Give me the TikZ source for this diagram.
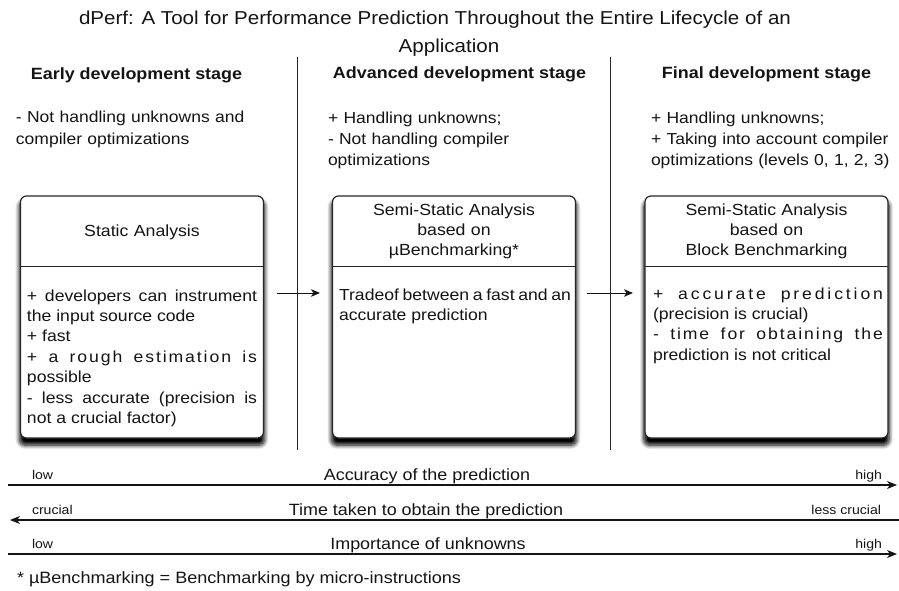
\documentclass[tikz,border=0pt]{standalone}
\usepackage{fontspec}
\setmainfont{Liberation Sans}[FakeStretch=1.1]
\usetikzlibrary{arrows.meta,shadows.blur}
\definecolor{ink}{HTML}{141414}
\definecolor{rule}{HTML}{262626}
\newcommand{\spaced}[2][12]{{\addfontfeature{LetterSpace=#1}#2}}
\begin{document}
\begin{tikzpicture}[x=1pt,y=-1pt,
  every node/.style={inner sep=0pt, outer sep=0pt, text=ink},
  titletext/.style={font=\fontsize{18.7}{28}\selectfont},
  stagehead/.style={font=\bfseries\fontsize{16.3}{20}\selectfont, anchor=base},
  stagedesc/.style={font=\fontsize{15.9}{21}\selectfont, anchor=base west,
    text width=250pt, align=left},
  stagebox/.style={draw=rule, line width=1.2pt, rounded corners=6pt, fill=white,
    minimum width=243pt, minimum height=242pt,
    blur shadow={shadow xshift=0pt, shadow yshift=-6pt, shadow scale=1.01,
      shadow blur radius=4pt, shadow blur steps=8, shadow opacity=100}},
  boxhead/.style={font=\fontsize{16.1}{20}\selectfont, anchor=base,
    text width=235pt, align=center},
  boxbody/.style={font=\fontsize{16}{20.4}\selectfont, anchor=base west,
    text width=230pt, align=justify},
  divider/.style={draw=rule, line width=1pt},
  separator/.style={draw=rule, line width=1pt},
  flow/.style={draw=ink, line width=1pt,
    -{Stealth[length=9pt, width=7.5pt, inset=2.5pt]}},
  axis/.style={draw=ink, line width=1.1pt,
    -{Stealth[length=10pt, width=8pt, inset=3pt]}},
  axisname/.style={font=\fontsize{16.3}{20}\selectfont, anchor=base},
  endlabel/.style={font=\fontsize{12.8}{15}\selectfont},
  note/.style={font=\fontsize{16.4}{20}\selectfont, anchor=base west}]

\useasboundingbox (0,0) rectangle (899,591);

% title
\node[titletext, anchor=base] (title1) at (435,25)
  {dPerf: A Tool for Performance Prediction Throughout the Entire Lifecycle of an};
\node[titletext, anchor=base] (title2) at (449,53) {Application};

% column separators
\coordinate (s1top) at (297,57);
\coordinate (s1bot) at (297,450);
\coordinate (s2top) at (610,57);
\coordinate (s2bot) at (610,450);
\draw[separator] (s1top) -- (s1bot);
\draw[separator] (s2top) -- (s2bot);

% stage headings
\node[stagehead] (head1) at (136.5,80) {Early development stage};
\node[stagehead] (head2) at (459.5,79) {Advanced development stage};
\node[stagehead] (head3) at (766.5,79) {Final development stage};

% stage descriptions
\node[stagedesc] (desc1) at (16,123)
  {- Not handling unknowns and\\compiler optimizations};
\node[stagedesc] (desc2) at (328,124)
  {+ Handling unknowns;\\- Not handling compiler\\optimizations};
\node[stagedesc] (desc3) at (651,124)
  {+ Handling unknowns;\\+ Taking into account compiler\\optimizations (levels 0, 1, 2, 3)};

% analysis boxes
\node[stagebox] (box1) at (142,317) {};
\node[stagebox] (box2) at (454,317) {};
\node[stagebox] (box3) at (766.5,317) {};

\draw[divider] (box1.west |- 0,266.7) -- (box1.east |- 0,266.7);
\draw[divider] (box2.west |- 0,266.7) -- (box2.east |- 0,266.7);
\draw[divider] (box3.west |- 0,266.7) -- (box3.east |- 0,266.7);

\node[boxhead] (name1) at (142,236) {Static Analysis};
\node[boxhead] (name2) at (454,215)
  {Semi-Static Analysis\\based on\\µBenchmarking*};
\node[boxhead] (name3) at (766.5,215)
  {Semi-Static Analysis\\based on\\Block Benchmarking};

\node[boxbody] (body1) at (27,301)
  {+ developers can instrument\linebreak the input source code\\
   + fast\\
   \spaced{+ a rough estimation is}\linebreak possible\\
   - less accurate (precision is\linebreak not a crucial factor)};
\node[boxbody, text width=232pt] (body2) at (339,300)
  {Tradeof between a fast and an\linebreak accurate prediction};
\node[boxbody] (body3) at (653,299)
  {\spaced[18]{+ accurate prediction}\linebreak (precision is crucial)\\
   \spaced{- time for obtaining the}\linebreak prediction is not critical};

% flow between the stages
\draw[flow] ([xshift=13.5pt, yshift=24pt]box1.east) -- ([xshift=-12.5pt, yshift=24pt]box2.west);
\draw[flow] ([xshift=11.5pt, yshift=24pt]box2.east) -- ([xshift=-12pt, yshift=24pt]box3.west);

% trend axes
\coordinate (acc-l) at (8,485);
\coordinate (acc-r) at (897,485);
\coordinate (time-l) at (10,520);
\coordinate (time-r) at (899,520);
\coordinate (unk-l) at (8,554);
\coordinate (unk-r) at (897,554);
\draw[axis] (acc-l) -- (acc-r);
\draw[axis] (time-r) -- (time-l);
\draw[axis] (unk-l) -- (unk-r);

\node[axisname] (accname) at (427,480) {Accuracy of the prediction};
\node[endlabel, anchor=base west] (acclow) at (32,479) {low};
\node[endlabel, anchor=base east] (acchigh) at (882,479) {high};

\node[axisname] (timename) at (426,515) {Time taken to obtain the prediction};
\node[endlabel, anchor=base west] (timecrucial) at (32,514) {crucial};
\node[endlabel, anchor=base east] (timeless) at (881,514) {less crucial};

\node[axisname] (unkname) at (428,549) {Importance of unknowns};
\node[endlabel, anchor=base west] (unklow) at (32,548) {low};
\node[endlabel, anchor=base east] (unkhigh) at (882,548) {high};

% footnote
\node[note] (footnote) at (17,583)
  {* µBenchmarking = Benchmarking by micro-instructions};
\end{tikzpicture}
\end{document}
